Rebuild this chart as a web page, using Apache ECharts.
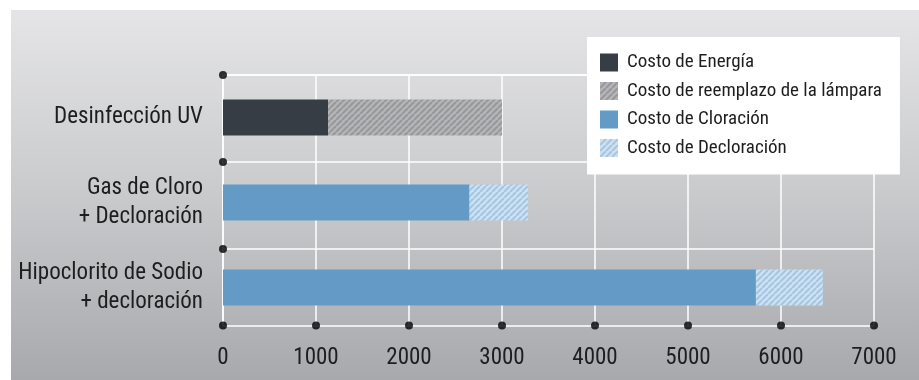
<!DOCTYPE html>
<html>
<head>
<meta charset="utf-8">
<script src="https://cdn.jsdelivr.net/npm/echarts@6/dist/echarts.min.js"></script>
<style>
html,body{margin:0;padding:0;background:#fff;}
#c{width:919px;height:380px;}
</style>
</head>
<body>
<div id="c"></div>
<script>
// ---- data ----
const categories = ['Desinfección UV', 'Gas de Cloro\n+ Decloración', 'Hipoclorito de Sodio\n+ decloración'];
const seriesNames = ['Costo de Energía', 'Costo de reemplazo de la lámpara', 'Costo de Cloración', 'Costo de Decloración'];
const energia     = [1130, null, null];
const lampara     = [1870, null, null];
const cloracion   = [null, 2650, 5730];
const decloracion = [null, 630, 720];
const xTicks = [0, 1000, 2000, 3000, 4000, 5000, 6000, 7000];
const rowEdges = [0, 1, 2];

// ---- styling helpers ----
const FONT = "'Roboto Condensed', 'DejaVu Sans Condensed', sans-serif";
function hatch(bg, fg) {
  const s = 6;
  const cv = document.createElement('canvas');
  cv.width = s; cv.height = s;
  const ctx = cv.getContext('2d');
  ctx.fillStyle = bg; ctx.fillRect(0, 0, s, s);
  ctx.strokeStyle = fg; ctx.lineWidth = 2.2;
  for (let k = -1; k <= 1; k++) {
    ctx.beginPath();
    ctx.moveTo(k * s, s);
    ctx.lineTo(k * s + s, 0);
    ctx.stroke();
  }
  return { image: cv, repeat: 'repeat' };
}
const colEnergia = '#363d45';
const colLampara = hatch('#b6b6b8', '#98999b');
const colCloracion = '#639bc6';
const colDecloracion = hatch('#d0e2f1', '#a6c6e2');

const Y_MAX = 250.5 / 87; // axis extent in row units (layout)

const chart = echarts.init(document.getElementById('c'), null, { renderer: 'canvas' });
const barBase = { type: 'bar', stack: 'total', xAxisIndex: 0, yAxisIndex: 0, barWidth: 36 };

chart.setOption({
  animation: false,
  graphic: [{
    type: 'rect', left: 11, top: 10, z: -10,
    shape: { width: 908, height: 370 },
    style: {
      fill: new echarts.graphic.LinearGradient(0, 0, 0, 1, [
        { offset: 0, color: '#e5e5e7' },
        { offset: 0.5, color: '#c9cacc' },
        { offset: 1, color: '#a8a9ac' }
      ])
    }
  }],
  legend: {
    orient: 'vertical',
    left: 587, top: 37,
    backgroundColor: '#ffffff',
    padding: [16, 18, 17, 13],
    itemWidth: 18, itemHeight: 18, itemGap: 9.5,
    icon: 'rect',
    data: seriesNames,
    textStyle: { fontFamily: FONT, fontSize: 19, color: '#1e1e1e', lineHeight: 18, padding: [0, 0, 0, 4] }
  },
  grid: [
    { left: 223, right: 45, top: 75, height: 255 },
    { left: 223, right: 45, top: 75, bottom: 54.5 }
  ],
  xAxis: [
    { gridIndex: 0, type: 'value', min: 0, max: 7000, interval: 1000, show: false },
    {
      gridIndex: 1, type: 'value', min: 0, max: 7000, interval: 1000,
      axisLine: { show: true, lineStyle: { color: '#ffffff', width: 1.5 } },
      axisTick: { show: false },
      splitLine: { show: true, lineStyle: { color: '#ffffff', width: 1.5 } },
      axisLabel: { fontFamily: FONT, fontSize: 23, color: '#1e1e1e', margin: 21, formatter: v => String(v) }
    }
  ],
  yAxis: [
    {
      gridIndex: 0, type: 'category', inverse: true, data: categories,
      axisLine: { show: false }, axisTick: { show: false }, splitLine: { show: false },
      axisLabel: { fontFamily: FONT, fontSize: 23, color: '#1e1e1e', margin: 20, lineHeight: 29, align: 'right' },
      z: 5
    },
    {
      gridIndex: 1, type: 'value', inverse: true, min: 0, max: Y_MAX, interval: 1,
      axisLine: { show: true, lineStyle: { color: '#ffffff', width: 1.5 } },
      axisTick: { show: false }, axisLabel: { show: false },
      splitLine: { show: true, lineStyle: { color: '#ffffff', width: 1.5 } }
    }
  ],
  series: [
    Object.assign({}, barBase, { name: seriesNames[0], data: energia, itemStyle: { color: colEnergia }, z: 3 }),
    Object.assign({}, barBase, { name: seriesNames[1], data: lampara, itemStyle: { color: colLampara }, z: 3 }),
    Object.assign({}, barBase, { name: seriesNames[2], data: cloracion, itemStyle: { color: colCloracion }, z: 3 }),
    Object.assign({}, barBase, { name: seriesNames[3], data: decloracion, itemStyle: { color: colDecloracion }, z: 3 }),
    {
      type: 'scatter', name: 'dots', xAxisIndex: 1, yAxisIndex: 1,
      symbol: 'circle', symbolSize: 8, silent: true, z: 6,
      itemStyle: { color: '#000000' },
      data: rowEdges.map(r => [0, r]).concat(xTicks.map(x => [x, Y_MAX]))
    }
  ]
});
</script>
</body>
</html>
